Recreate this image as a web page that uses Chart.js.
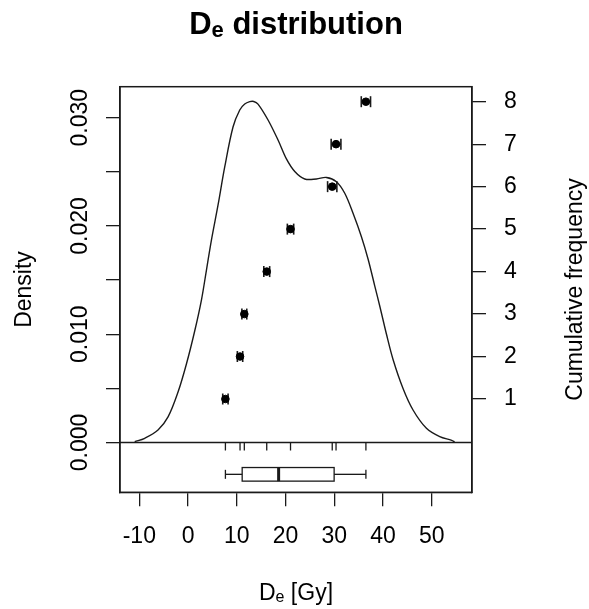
<!DOCTYPE html>
<html>
<head>
<meta charset="utf-8">
<script src="https://cdn.jsdelivr.net/npm/chart.js@4.4.1/dist/chart.umd.min.js"></script>
<style>
  html, body { margin: 0; padding: 0; background: #fff; }
  canvas { display: block; }
</style>
</head>
<body>
<canvas id="chart" width="589" height="609"></canvas>
<script>
const FONT = "'Liberation Sans', Arial, Helvetica, sans-serif";
const INK = '#1a1a1a';

// Equivalent doses (Gy), their standard errors and cumulative rank
const deValues = [7.67, 10.67, 11.55, 16.15, 21.03, 29.59, 30.37, 36.50];
const deErrors = [0.55, 0.55, 0.50, 0.60, 0.65, 0.95, 1.00, 0.95];
const cumFreq  = [1, 2, 3, 4, 5, 6, 7, 8];

// Kernel density estimate sampled along the dose axis
const kdeDose = [-10.94, -8.89, -6.16, -4.10, -2.05, -0.33, 1.37, 2.75, 3.78, 4.80,
                 6.16, 7.53, 9.23, 10.61, 11.63, 12.66, 13.48, 14.36, 16.42, 18.47,
                 20.19, 21.90, 23.95, 26.35, 28.40, 30.45, 32.16, 33.86, 35.58, 36.94,
                 38.31, 39.34, 40.71, 42.07, 44.12, 46.17, 48.92, 51.65, 54.11, 54.70];
const kdeDensity = [0.00007, 0.00039, 0.00115, 0.00236, 0.00466, 0.00725, 0.01030, 0.01316, 0.01593, 0.01870,
                    0.02194, 0.02545, 0.02914, 0.03071, 0.03126, 0.03148, 0.03150, 0.03126, 0.02979, 0.02794,
                    0.02619, 0.02503, 0.02434, 0.02434, 0.02448, 0.02409, 0.02302, 0.02117, 0.01901, 0.01695,
                    0.01447, 0.01261, 0.01002, 0.00767, 0.00499, 0.00300, 0.00131, 0.00054, 0.00020, 0.00005];

// Axis ticks
const doseTicks = [-10, 0, 10, 20, 30, 40, 50];
const densityTicks = [0, 0.005, 0.010, 0.015, 0.020, 0.025, 0.030];
const densityLabels = ['0.000', '', '0.010', '', '0.020', '', '0.030'];
const freqTicks = [1, 2, 3, 4, 5, 6, 7, 8];

// Axis ranges (R-style 4% padding around the data range plus the boxplot strip)
const DOSE_MIN = -13.96, DOSE_MAX = 58.27;
const DENS_MIN = -0.0046, DENS_MAX = 0.032863;
const FREQ_MIN = -1.1968, FREQ_MAX = 8.3532;
const BOX_LEVEL = -0.00294;   // density-axis level of the boxplot strip

// Tukey five-number summary (as used by boxplot)
function fivenum(values) {
  const x = [...values].sort((a, b) => a - b), n = x.length;
  const n4 = Math.floor((n + 3) / 2) / 2;
  const d = [1, n4, (n + 1) / 2, n + 1 - n4, n];
  return d.map(k => 0.5 * (x[Math.floor(k) - 1] + x[Math.ceil(k) - 1]));
}

function seg(ctx, x1, y1, x2, y2) {
  ctx.beginPath(); ctx.moveTo(x1, y1); ctx.lineTo(x2, y2); ctx.stroke();
}

function textWithSubscript(ctx, base, sub, rest, cx, baseline, size, weight) {
  const big = `${weight} ${size}px ${FONT}`;
  const small = `${weight} ${Math.round(size * 0.7)}px ${FONT}`;
  ctx.font = big;
  const w1 = ctx.measureText(base).width, w3 = ctx.measureText(rest).width;
  ctx.font = small;
  const w2 = ctx.measureText(sub).width;
  const x0 = cx - (w1 + w2 + w3) / 2;
  ctx.textAlign = 'left'; ctx.textBaseline = 'alphabetic';
  ctx.font = big;   ctx.fillText(base, x0, baseline);
  ctx.font = small; ctx.fillText(sub, x0 + w1, baseline + size * 0.1);
  ctx.font = big;   ctx.fillText(rest, x0 + w1 + w2, baseline);
}

const decorations = {
  id: 'decorations',
  beforeDatasetsDraw(chart) {
    const { ctx, chartArea: a, scales: { x, y, y2 } } = chart;
    ctx.save();
    ctx.strokeStyle = INK;
    ctx.lineWidth = 1.3;

    // zero-density baseline
    const y0 = y.getPixelForValue(0);
    seg(ctx, a.left, y0, a.right, y0);

    // rug of individual doses
    deValues.forEach(v => {
      const px = x.getPixelForValue(v);
      seg(ctx, px, y0, px, y0 + 8);
    });

    // boxplot of the doses
    const [lo, q1, med, q3, hi] = fivenum(deValues);
    const yc = y.getPixelForValue(BOX_LEVEL);
    const h = 6.8, cap = 4.5;
    const pLo = x.getPixelForValue(lo), pQ1 = x.getPixelForValue(q1);
    const pMed = x.getPixelForValue(med), pQ3 = x.getPixelForValue(q3), pHi = x.getPixelForValue(hi);
    seg(ctx, pLo, yc, pQ1, yc);
    seg(ctx, pQ3, yc, pHi, yc);
    seg(ctx, pLo, yc - cap, pLo, yc + cap);
    seg(ctx, pHi, yc - cap, pHi, yc + cap);
    ctx.strokeRect(pQ1, yc - h, pQ3 - pQ1, 2 * h);
    ctx.lineWidth = 3;
    seg(ctx, pMed, yc - h, pMed, yc + h);

    // horizontal error bars of the cumulative points
    ctx.lineWidth = 1.6;
    deValues.forEach((v, i) => {
      const py = y2.getPixelForValue(cumFreq[i]);
      const l = x.getPixelForValue(v - deErrors[i]);
      const r = x.getPixelForValue(v + deErrors[i]);
      seg(ctx, l, py, r, py);
      seg(ctx, l, py - 5.5, l, py + 5.5);
      seg(ctx, r, py - 5.5, r, py + 5.5);
    });
    ctx.restore();
  },
  afterDraw(chart) {
    const { ctx, chartArea: a, scales: { y } } = chart;
    ctx.save();
    // plot frame
    ctx.strokeStyle = INK;
    ctx.lineWidth = 1.5;
    ctx.strokeRect(a.left, a.top, a.right - a.left, a.bottom - a.top);

    ctx.fillStyle = '#000';
    // density tick labels, parallel to the axis
    ctx.font = `23px ${FONT}`;
    ctx.textAlign = 'center'; ctx.textBaseline = 'alphabetic';
    densityTicks.forEach((v, i) => {
      if (!densityLabels[i]) return;
      ctx.save();
      ctx.translate(a.left - 33.5, y.getPixelForValue(v));
      ctx.rotate(-Math.PI / 2);
      ctx.fillText(densityLabels[i], 0, 0);
      ctx.restore();
    });

    const midY = (a.top + a.bottom) / 2, midX = (a.left + a.right) / 2;
    // axis titles
    ctx.save();
    ctx.translate(31, midY); ctx.rotate(-Math.PI / 2);
    ctx.fillText('Density', 0, 0);
    ctx.restore();
    ctx.save();
    ctx.translate(582, midY); ctx.rotate(-Math.PI / 2);
    ctx.fillText('Cumulative frequency', 0, 0);
    ctx.restore();

    textWithSubscript(ctx, 'D', 'e', ' [Gy]', midX, 600, 23, 'normal');
    textWithSubscript(ctx, 'D', 'e', ' distribution', midX, 34, 31, 'bold');
    ctx.restore();
  }
};

const tickFont = { family: FONT, size: 23 };
const axisGrid = { drawOnChartArea: false, drawTicks: true, tickLength: 14, color: INK, lineWidth: 1.3 };
const axisBorder = { display: true, color: INK, width: 1.3 };

new Chart(document.getElementById('chart'), {
  type: 'scatter',
  data: {
    datasets: [
      {
        label: 'KDE',
        data: kdeDose.map((d, i) => ({ x: d, y: kdeDensity[i] })),
        showLine: true,
        tension: 0.35,
        borderColor: INK,
        borderWidth: 1.4,
        pointRadius: 0,
        xAxisID: 'x',
        yAxisID: 'y'
      },
      {
        label: 'Cumulative frequency',
        data: deValues.map((d, i) => ({ x: d, y: cumFreq[i] })),
        backgroundColor: '#000',
        borderColor: '#000',
        pointRadius: 3.8,
        xAxisID: 'x',
        yAxisID: 'y2'
      }
    ]
  },
  options: {
    responsive: false,
    animation: false,
    events: [],
    layout: { padding: { top: 86.7, left: 0, right: 0, bottom: 0 } },
    plugins: { legend: { display: false }, tooltip: { enabled: false }, title: { display: false } },
    scales: {
      x: {
        type: 'linear', position: 'bottom', min: DOSE_MIN, max: DOSE_MAX,
        afterBuildTicks: s => { s.ticks = doseTicks.map(v => ({ value: v })); },
        afterFit: s => { s.height = 609 - 492.3; },
        grid: axisGrid, border: axisBorder,
        ticks: { autoSkip: false, maxRotation: 0, minRotation: 0, padding: 17, color: '#000',
                 font: tickFont, callback: v => String(v) }
      },
      y: {
        type: 'linear', position: 'left', min: DENS_MIN, max: DENS_MAX,
        afterBuildTicks: s => { s.ticks = densityTicks.map(v => ({ value: v })); },
        afterFit: s => { s.width = 120; },
        grid: axisGrid, border: axisBorder,
        ticks: { display: false, autoSkip: false }
      },
      y2: {
        type: 'linear', position: 'right', min: FREQ_MIN, max: FREQ_MAX,
        afterBuildTicks: s => { s.ticks = freqTicks.map(v => ({ value: v })); },
        afterFit: s => { s.width = 117; },
        grid: axisGrid, border: axisBorder,
        ticks: { autoSkip: false, padding: 18, color: '#000', font: tickFont, callback: v => String(v) }
      }
    }
  },
  plugins: [decorations]
});
</script>
</body>
</html>
